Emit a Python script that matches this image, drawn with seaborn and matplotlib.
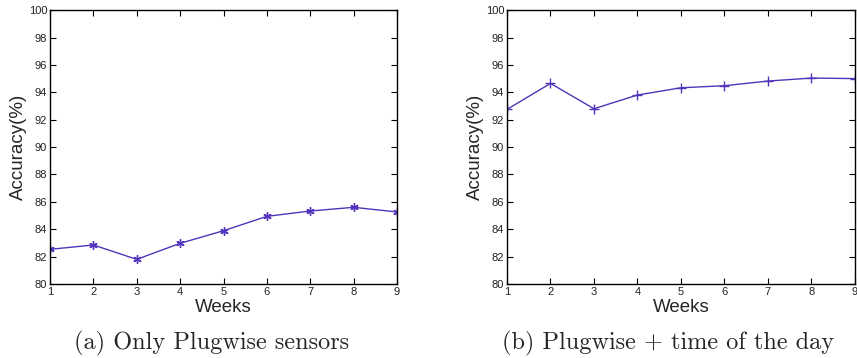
import numpy as np
import pandas as pd
import matplotlib
matplotlib.use("Agg")
import matplotlib.pyplot as plt
import seaborn as sns

weeks = [1, 2, 3, 4, 5, 6, 7, 8, 9]
acc_plugwise = [82.53, 82.85, 81.80, 82.97, 83.89, 84.94, 85.33, 85.60, 85.26]
acc_plugwise_time = [92.75, 94.65, 92.80, 93.80, 94.33, 94.48, 94.82, 95.04, 95.00]
captions = ["(a) Only Plugwise sensors", "(b) Plugwise + time of the day"]
yticks = list(range(80, 101, 2))

sns.set_style("ticks")
plt.rcParams["font.family"] = ["Liberation Sans", "DejaVu Sans"]

line_color = "#5233bb"

fig = plt.figure(figsize=(8.57, 3.58), dpi=100)
ax_a = fig.add_axes([0.0583, 0.2067, 0.405, 0.765])
ax_b = fig.add_axes([0.5916, 0.2067, 0.406, 0.765])

# MATLAB-style asterisk and plus markers
panels = [
    (ax_a, acc_plugwise, (6, 2, 0), 6, 0.247),
    (ax_b, acc_plugwise_time, "+", 7, 0.780),
]

for (ax, values, marker, msize, cap_x), caption in zip(panels, captions):
    df = pd.DataFrame({"week": weeks, "accuracy": values})
    sns.lineplot(data=df, x="week", y="accuracy", ax=ax, color=line_color,
                 marker=marker, markersize=msize, markeredgecolor=line_color,
                 markeredgewidth=1.0, linewidth=1.0)
    ax.set_xlim(1, 9)
    ax.set_ylim(80, 100)
    ax.set_xticks(weeks)
    ax.set_yticks(yticks)
    ax.tick_params(direction="in", length=4, width=0.8, top=True, right=True,
                   labelsize=8, colors="black", pad=2)
    for lbl in ax.get_xticklabels() + ax.get_yticklabels():
        lbl.set_family(["Liberation Sans Narrow", "Liberation Sans"])
        lbl.set_color("#222222")
    for sp in ax.spines.values():
        sp.set_linewidth(1.0)
        sp.set_color("black")
    ax.set_xlabel("Weeks", fontsize=13.5, labelpad=1.5)
    ax.set_ylabel("Accuracy(%)", fontsize=13.5, labelpad=1)
    fig.text(cap_x, 0.04, caption, ha="center", va="center",
             fontsize=17.5, family=["cmr10", "DejaVu Serif"])

fig.savefig("out.png", dpi=100)
